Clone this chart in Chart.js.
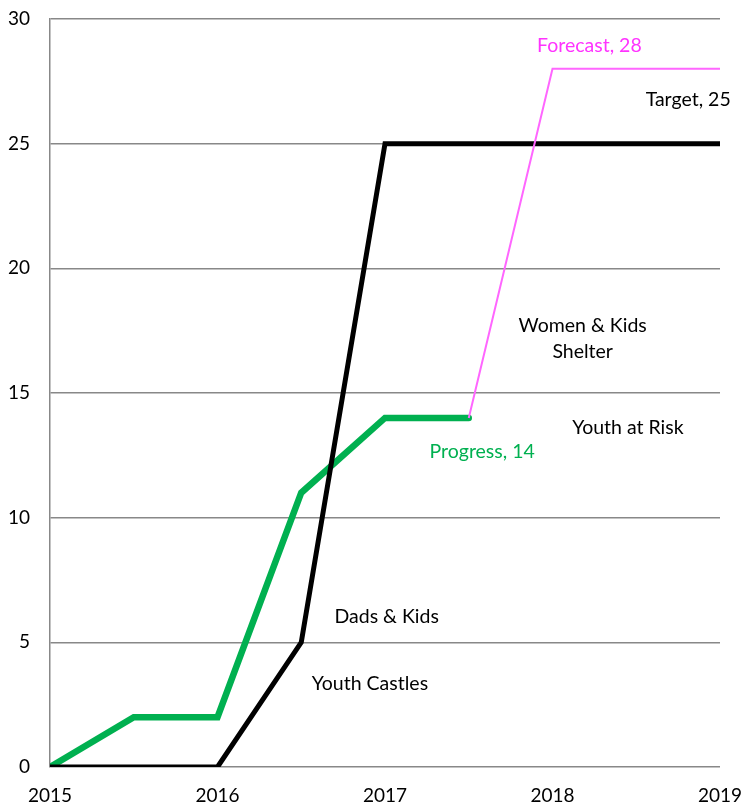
<!DOCTYPE html>
<html>
<head>
<meta charset="utf-8">
<script src="https://cdn.jsdelivr.net/npm/chart.js@4"></script>
<style>
  html, body { margin: 0; padding: 0; background: #fff; }
  #wrap { width: 741px; height: 805px; }
</style>
</head>
<body>
<div id="wrap"><canvas id="progressChart"></canvas></div>
<script>
// data
const targetX = [2015, 2016, 2016.5, 2017, 2019];
const targetY = [0, 0, 5, 25, 25];
const progressX = [2015, 2015.5, 2016, 2016.5, 2017, 2017.5];
const progressY = [0, 2, 2, 11, 14, 14];
const forecastX = [2017.5, 2018, 2019];
const forecastY = [14, 28, 28];

const yearTicks = [2015, 2016, 2017, 2018, 2019];

// text labels placed in data units
const noteText = ['Forecast, 28', 'Target, 25', ['Women & Kids', 'Shelter'], 'Youth at Risk', 'Progress, 14', 'Dads & Kids', 'Youth Castles'];
const noteX = [2018.22, 2018.81, 2018.18, 2018.45, 2017.58, 2017.01, 2016.91];
const noteY = [28.92, 26.75, 17.17, 13.6, 12.64, 6.02, 3.33];
const noteColor = ['#ff33ff', '#000000', '#000000', '#000000', '#00b050', '#000000', '#000000'];

const FONT = 'Lato, "Open Sans", sans-serif';

const toPoints = (xs, ys) => xs.map((x, i) => ({ x: x, y: ys[i] }));

const notesPlugin = {
    id: 'notes',
    afterDatasetsDraw(chart) {
        const { ctx, scales } = chart;
        ctx.save();
        ctx.font = '19.5px ' + FONT;
        ctx.textAlign = 'center';
        ctx.textBaseline = 'middle';
        noteText.forEach((t, i) => {
            const px = scales.x.getPixelForValue(noteX[i]);
            const py = scales.y.getPixelForValue(noteY[i]);
            ctx.fillStyle = noteColor[i];
            const lines = Array.isArray(t) ? t : [t];
            const lh = 26;
            lines.forEach((line, j) => {
                ctx.fillText(line, px, py + (j - (lines.length - 1) / 2) * lh);
            });
        });
        ctx.restore();
    }
};

new Chart(document.getElementById('progressChart').getContext('2d'), {
    type: 'line',
    data: {
        datasets: [
            {
                label: 'Forecast',
                data: toPoints(forecastX, forecastY),
                borderColor: '#ff66ff',
                borderWidth: 2,
                pointRadius: 0,
                tension: 0
            },
            {
                label: 'Target',
                data: toPoints(targetX, targetY),
                borderColor: '#000000',
                borderWidth: 5,
                borderCapStyle: 'round',
                pointRadius: 0,
                tension: 0
            },
            {
                label: 'Progress',
                data: toPoints(progressX, progressY),
                borderColor: '#00b050',
                borderWidth: 6.5,
                borderCapStyle: 'round',
                pointRadius: 0,
                tension: 0
            }
        ]
    },
    options: {
        responsive: true,
        maintainAspectRatio: false,
        animation: false,
        layout: {
            padding: { top: 19, right: 21, left: 0, bottom: 0 }
        },
        scales: {
            x: {
                type: 'linear',
                min: 2015,
                max: 2019,
                afterBuildTicks: scale => {
                    scale.ticks = yearTicks.map(v => ({ value: v }));
                },
                afterFit: scale => {
                    scale.height = 38;
                    scale.paddingLeft = 0;
                    scale.paddingRight = 0;
                },
                grid: { display: false, drawTicks: false },
                border: { display: false },
                ticks: {
                    color: '#000',
                    font: { family: FONT, size: 19 },
                    padding: 17,
                    maxRotation: 0,
                    callback: v => String(v)
                }
            },
            y: {
                min: 0,
                max: 30,
                afterFit: scale => {
                    scale.width = 50;
                    scale.paddingTop = 0;
                    scale.paddingBottom = 0;
                },
                grid: { color: '#888888', lineWidth: 1.5, drawTicks: false },
                border: { display: true, color: '#888888', width: 1.5 },
                ticks: {
                    stepSize: 5,
                    color: '#000',
                    font: { family: FONT, size: 19 },
                    padding: 20
                }
            }
        },
        plugins: {
            legend: { display: false },
            tooltip: { enabled: false }
        }
    },
    plugins: [notesPlugin]
});
</script>
</body>
</html>
